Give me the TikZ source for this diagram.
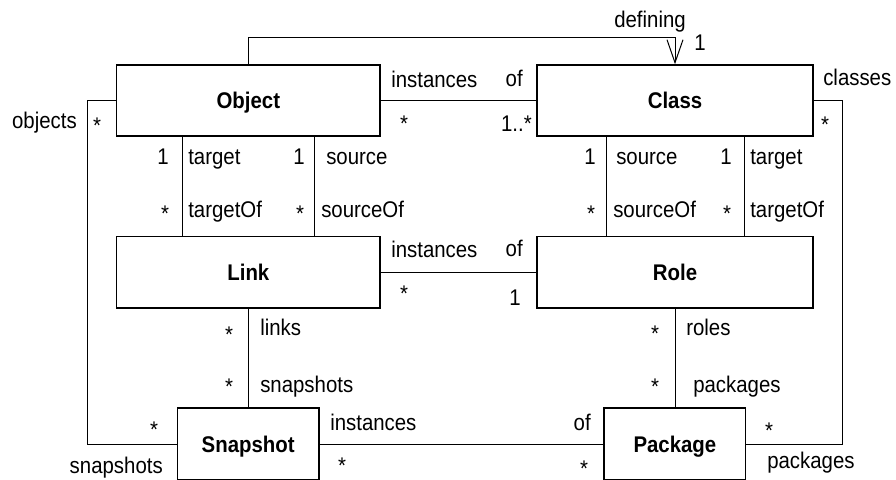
\documentclass[tikz,border=0pt]{standalone}
\usepackage{fontspec}
\setmainfont[FakeStretch=0.9]{Liberation Sans}
\usetikzlibrary{arrows.meta}
\begin{document}
\begin{tikzpicture}[x=0.75pt,y=-0.75pt,
  every node/.style={font=\fontsize{17pt}{20pt}\selectfont},
  cls/.style={draw,line width=1pt,fill=white,inner sep=0pt,
    minimum height=53.4pt,font=\fontsize{17pt}{20pt}\selectfont\bfseries,
    text height=12pt,text depth=0pt},
  wide/.style={cls,minimum width=197.5pt},
  wider/.style={cls,minimum width=207pt},
  small/.style={cls,minimum width=106.3pt,minimum height=54pt},
  assoc/.style={line width=0.75pt},
  lbl/.style={inner sep=0pt,anchor=base west},
  lble/.style={inner sep=0pt,anchor=base east},
  mult/.style={inner sep=0pt,anchor=base}]
\useasboundingbox (0,0) rectangle (896,479);
\clip (0,0) rectangle (896,479);

% classes
\node[wide]  (object)   at (248.35,100.5) {Object};
\node[wider] (class)    at (675,100.5)    {Class};
\node[wide]  (link)     at (248.35,272.4) {Link};
\node[wider] (role)     at (675,272.4)    {Role};
\node[small] (snapshot) at (248.2,444)    {Snapshot};
\node[small] (package)  at (674.9,444)    {Package};

% helper coordinates for routing
\coordinate (top) at (0,37);
\coordinate (lx)  at (87,0);
\coordinate (rx)  at (842,0);
\coordinate (xa)  at (182,0);
\coordinate (xb)  at (314,0);
\coordinate (xc)  at (606,0);
\coordinate (xd)  at (744,0);

% associations
\draw[assoc,-{Straight Barb[length=17.25pt,width=12pt]}]
  (object.north) -- (object.north |- top) -| (class.north);
\draw[assoc] (object.east) -- (class.west);
\draw[assoc] (link.east) -- (role.west);
\draw[assoc] (snapshot.east) -- (package.west);
\draw[assoc] (object.west) -| (lx |- snapshot.west) -- (snapshot.west);
\draw[assoc] (class.east) -| (rx |- package.east) -- (package.east);
\draw[assoc] (object.south -| xa) -- (link.north -| xa);
\draw[assoc] (object.south -| xb) -- (link.north -| xb);
\draw[assoc] (class.south -| xc) -- (role.north -| xc);
\draw[assoc] (class.south -| xd) -- (role.north -| xd);
\draw[assoc] (link.south) -- (link.south |- snapshot.north);
\draw[assoc] (role.south) -- (role.south |- package.north);

% defining
\node[mult] (lDef) at (650,27) {defining};
\node[mult] (mDef) at (700,50) {1};

% Object -- Class
\node[lbl]  (lInstA) at (391,87) {instances};
\node[lble] (lOfA)   at (523,86) {of};
\node[mult] (mObjA)  at (404,131) {*};
\node[lble] (mClsA)  at (532,131) {1..*};

% objects / classes
\node[lble] (lObjects) at (77,128) {objects};
\node[mult] (mObjects) at (97,133) {*};
\node[lbl]  (lClasses) at (823,85) {classes};
\node[mult] (mClasses) at (825,132) {*};

% Object -- Link
\node[mult] (m1a) at (163,164) {1};
\node[lbl]  (l1a) at (188,164) {target};
\node[mult] (m2a) at (165,221) {*};
\node[lbl]  (l2a) at (188,217) {targetOf};
\node[mult] (m1b) at (299,164) {1};
\node[lbl]  (l1b) at (326,164) {source};
\node[mult] (m2b) at (300,221) {*};
\node[lbl]  (l2b) at (321,217) {sourceOf};

% Class -- Role
\node[mult] (m1c) at (590,164) {1};
\node[lbl]  (l1c) at (616,164) {source};
\node[mult] (m2c) at (591,221) {*};
\node[lbl]  (l2c) at (613,217) {sourceOf};
\node[mult] (m1d) at (726,164) {1};
\node[lbl]  (l1d) at (750,164) {target};
\node[mult] (m2d) at (727,221) {*};
\node[lbl]  (l2d) at (750,217) {targetOf};

% Link -- Role
\node[lbl]  (lInstB) at (391,257) {instances};
\node[lble] (lOfB)   at (523,256) {of};
\node[mult] (mLinkB) at (404,301) {*};
\node[mult] (mRoleB) at (515,305) {1};

% Link -- Snapshot
\node[mult] (mLinks) at (229,342) {*};
\node[lbl]  (lLinks) at (260,335) {links};
\node[mult] (mSnapA) at (229,394) {*};
\node[lbl]  (lSnapA) at (260,392) {snapshots};

% Role -- Package
\node[mult] (mRoles) at (655,341) {*};
\node[lbl]  (lRoles) at (686,335) {roles};
\node[mult] (mPackA) at (655,394) {*};
\node[lbl]  (lPackA) at (693,392) {packages};

% Snapshot -- Package
\node[lbl]  (lInstC) at (330,430) {instances};
\node[lble] (lOfC)   at (591,430) {of};
\node[mult] (mSnapC) at (342,473) {*};
\node[mult] (mPackC) at (584,476) {*};

% outer ends
\node[mult] (mSnapL) at (154,437) {*};
\node[lble] (lSnapL) at (163,473) {snapshots};
\node[mult] (mPackR) at (769,438) {*};
\node[lbl]  (lPackR) at (767,468) {packages};
\end{tikzpicture}
\end{document}
